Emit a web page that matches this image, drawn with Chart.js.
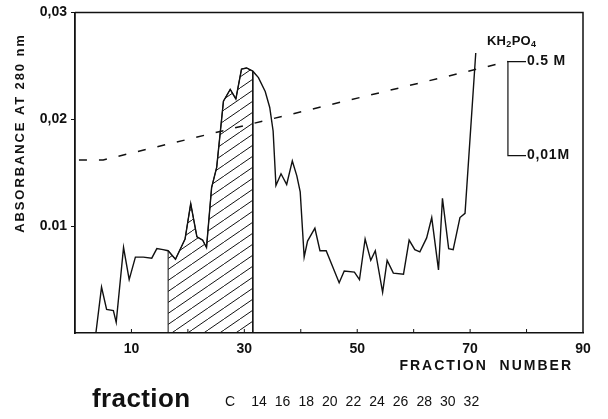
<!DOCTYPE html>
<html>
<head>
<meta charset="utf-8">
<script src="https://cdn.jsdelivr.net/npm/chart.js@4"></script>
<style>
  html, body { margin: 0; padding: 0; background: #fff; }
  canvas { display: block; }
</style>
</head>
<body>
<canvas id="chart" width="608" height="419"></canvas>
<script>
// absorbance trace (fraction number -> A280)
const fractions = [3.7, 4.7, 5.6, 6.8, 7.3, 8.6, 9.6, 10.7, 12.1, 13.6, 14.5, 15.6,
  16.5, 17.8, 19.5, 20.5, 21.6, 22.6, 23.3, 24.2, 25.1, 26.3, 27.5, 28.5, 29.5, 30.4,
  31.5, 32.5, 33.7, 34.5, 35.1, 35.6, 36.5, 37.5, 38.5, 39.3, 39.9, 40.6, 41.2, 42.5,
  43.4, 44.5, 46.8, 47.7, 49.5, 50.4, 51.4, 52.4, 53.2, 54.5, 55.3, 56.4, 58.2, 59.2,
  60.2, 61.1, 62.3, 63.2, 64.4, 65.1, 66.2, 67.0, 68.2, 69.1, 71.0];
const absorbance = [0, 0.0043, 0.0022, 0.0021, 0.0010, 0.0080, 0.0050, 0.0071, 0.0071, 0.0070, 0.0079, 0.0078,
  0.0077, 0.0069, 0.0088, 0.0121, 0.0090, 0.0087, 0.0080, 0.0136, 0.0155, 0.0217, 0.0228, 0.0219, 0.0247, 0.0248,
  0.0245, 0.0239, 0.0226, 0.0211, 0.0189, 0.0138, 0.0149, 0.0139, 0.0161, 0.0147, 0.0132, 0.0071, 0.0086, 0.0098,
  0.0077, 0.0077, 0.0047, 0.0058, 0.0057, 0.0050, 0.0088, 0.0068, 0.0077, 0.0038, 0.0068, 0.0056, 0.0055, 0.0087,
  0.0078, 0.0076, 0.0089, 0.0108, 0.0059, 0.0126, 0.0079, 0.0078, 0.0108, 0.0112, 0.0262];

// hatched (pooled) fractions
const hatchFrom = 16.5;
const hatchTo = 31.5;

// KH2PO4 gradient (dashed), plotted on the absorbance scale
const gradientX = [0.7, 5, 76.7];
const gradientY = [0.0162, 0.0162, 0.0254];

// bracket showing 0.01 M -> 0.5 M
const bracketX = [79.9, 76.7, 76.7, 79.9];
const bracketY = [0.0254, 0.0254, 0.0166, 0.0166];

const xTickLabels = { 10: "10", 30: "30", 50: "50", 70: "70", 90: "90" };
const yTickLabels = { 1: "0.01", 2: "0,02", 3: "0,03" };
const fractionRow = ["C", "14", "16", "18", "20", "22", "24", "26", "28", "30", "32"];

const INK = "#111";
const FONT = '"Liberation Sans", Arial, sans-serif';

// diagonal hatch pattern
function hatchPattern() {
  const c = document.createElement("canvas");
  c.width = 16; c.height = 11;
  const g = c.getContext("2d");
  g.strokeStyle = INK;
  g.lineWidth = 1;
  g.beginPath();
  g.moveTo(0, 11); g.lineTo(16, 0);
  g.moveTo(-16, 11); g.lineTo(0, 0);
  g.moveTo(16, 11); g.lineTo(32, 0);
  g.stroke();
  return document.getElementById("chart").getContext("2d").createPattern(c, "repeat");
}

const trace = fractions.map((f, i) => ({ x: f, y: absorbance[i] }));
const hatch = [{ x: hatchFrom, y: 0 }]
  .concat(trace.filter(p => p.x >= hatchFrom && p.x <= hatchTo))
  .concat([{ x: hatchTo, y: 0 }]);
const gradient = gradientX.map((f, i) => ({ x: f, y: gradientY[i] }));
const bracket = bracketX.map((f, i) => ({ x: f, y: bracketY[i] }));

function text(ctx, str, x, y, font, align, spacing) {
  ctx.save();
  ctx.font = font;
  ctx.fillStyle = INK;
  ctx.textAlign = align || "left";
  ctx.textBaseline = "middle";
  ctx.letterSpacing = (spacing || 0) + "px";
  ctx.fillText(str, x, y);
  ctx.restore();
}

const decor = {
  id: "decor",
  afterDraw(chart) {
    const { ctx, chartArea: a, scales: { x, y } } = chart;
    ctx.save();
    ctx.strokeStyle = INK;
    ctx.lineWidth = 1.5;
    // frame top and right
    ctx.beginPath();
    ctx.moveTo(a.left, a.top); ctx.lineTo(a.right, a.top); ctx.lineTo(a.right, a.bottom);
    ctx.stroke();
    // inward ticks on the fraction axis
    ctx.lineWidth = 1;
    ctx.beginPath();
    for (let v = 10; v < 90; v += 10) {
      const px = x.getPixelForValue(v);
      ctx.moveTo(px, a.bottom); ctx.lineTo(px, a.bottom - 4);
    }
    ctx.stroke();
    ctx.restore();

    // y title
    ctx.save();
    ctx.translate(20, 133);
    ctx.rotate(-Math.PI / 2);
    text(ctx, "ABSORBANCE AT 280 nm", 0, 0, "bold 13px " + FONT, "center", 1.9);
    ctx.restore();

    text(ctx, "FRACTION  NUMBER", 573, 366, "bold 14px " + FONT, "right", 2);

    // KH2PO4 with subscripts
    ctx.save();
    ctx.fillStyle = INK;
    ctx.textBaseline = "alphabetic";
    let cx = 487;
    const base = 45;
    [["KH", 0], ["2", 1], ["PO", 0], ["4", 1]].forEach(([s, sub]) => {
      ctx.font = (sub ? "bold 9px " : "bold 13px ") + FONT;
      ctx.fillText(s, cx, base + (sub ? 2 : 0));
      cx += ctx.measureText(s).width + 0.5;
    });
    ctx.restore();

    text(ctx, "0.5 M", x.getPixelForValue(bracketX[0]) + 1, y.getPixelForValue(bracketY[0]), "bold 14px " + FONT, "left", 0.8);
    text(ctx, "0,01M", x.getPixelForValue(bracketX[3]) + 1, y.getPixelForValue(bracketY[3]), "bold 14px " + FONT, "left", 0.8);

    // fraction row
    text(ctx, "fraction", 92, 400, "bold 26px " + FONT, "left", 0.4);
    fractionRow.forEach((s, i) => {
      const px = i === 0 ? 230 : 259 + (i - 1) * 23.6;
      text(ctx, s, px, 402, "14px " + FONT, "center", 0);
    });
  }
};

new Chart(document.getElementById("chart"), {
  type: "line",
  data: {
    datasets: [
      {
        data: hatch,
        borderColor: INK,
        borderWidth: 1,
        backgroundColor: hatchPattern(),
        fill: "origin",
        pointRadius: 0,
        tension: 0
      },
      {
        data: trace,
        borderColor: INK,
        borderWidth: 1.4,
        fill: false,
        pointRadius: 0,
        tension: 0
      },
      {
        data: gradient,
        borderColor: INK,
        borderWidth: 1.5,
        borderDash: [8, 12],
        fill: false,
        pointRadius: 0,
        tension: 0
      },
      {
        data: bracket,
        borderColor: INK,
        borderWidth: 1.2,
        fill: false,
        pointRadius: 0,
        tension: 0
      }
    ]
  },
  options: {
    responsive: false,
    animation: false,
    parsing: false,
    layout: { padding: { top: 11, right: 25, left: 0, bottom: 0 } },
    plugins: { legend: { display: false }, tooltip: { enabled: false } },
    scales: {
      x: {
        type: "linear",
        min: 0,
        max: 90,
        afterFit: s => { s.height = 86; },
        grid: { display: false },
        border: { color: INK, width: 1.5 },
        ticks: {
          stepSize: 10,
          autoSkip: false,
          maxRotation: 0,
          padding: 0,
          color: INK,
          font: { family: FONT, size: 14, weight: "bold" },
          callback: v => xTickLabels[v] || ""
        }
      },
      y: {
        min: 0,
        max: 0.03,
        afterFit: s => { s.width = 75; },
        grid: {
          drawOnChartArea: false,
          color: c => (c.tick && c.tick.value === 0 ? "rgba(0,0,0,0)" : INK),
          tickLength: 4,
          tickWidth: 1
        },
        border: { color: INK, width: 1.8 },
        ticks: {
          stepSize: 0.01,
          padding: 4,
          color: INK,
          font: { family: FONT, size: 14, weight: "bold" },
          callback: v => yTickLabels[Math.round(v * 100)] || ""
        }
      }
    }
  },
  plugins: [decor]
});
</script>
</body>
</html>
